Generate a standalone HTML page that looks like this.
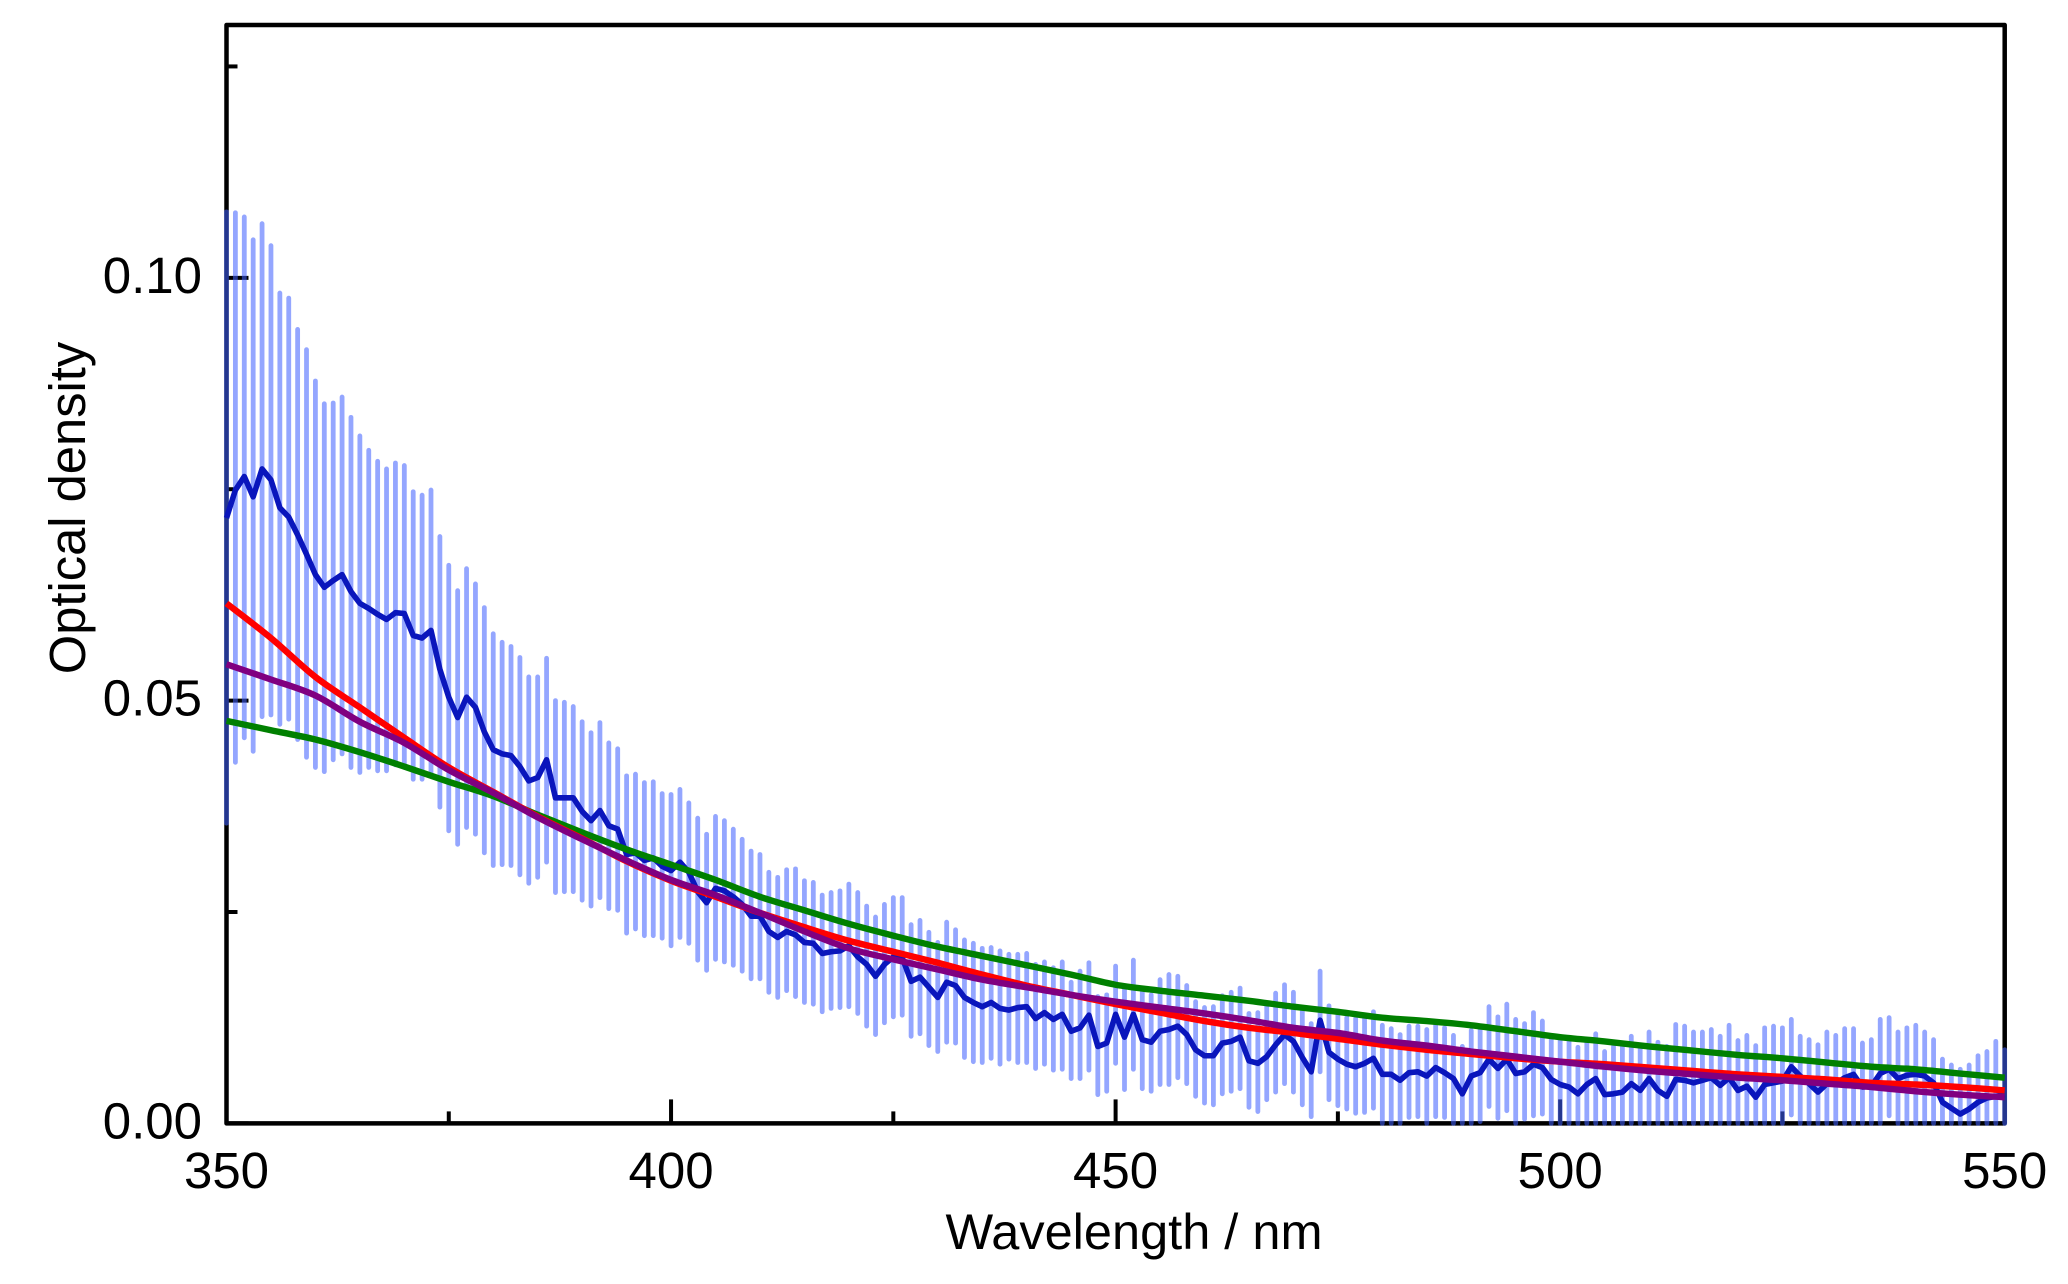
<!DOCTYPE html>
<html lang="en">
<head>
<meta charset="utf-8">
<title>Optical density vs wavelength</title>
<style>
html,body{margin:0;padding:0;background:#fff;}
svg{display:block;}
text{font-family:"Liberation Sans",Arial,sans-serif;fill:#000;}
</style>
</head>
<body>
<svg id="chart" width="2068" height="1284" viewBox="0 0 2068 1284" xmlns="http://www.w3.org/2000/svg">
<rect x="0" y="0" width="2068" height="1284" fill="#fff"/>
<g id="axes"></g>
<g id="bars"></g>
<g id="lines"></g>
<text x="1134" y="1249" font-size="50.5" text-anchor="middle">Wavelength / nm</text>
<text transform="translate(85 508) rotate(-90)" font-size="50.7" text-anchor="middle">Optical density</text>
</svg>
<script>
// All absorbance values are in units of 10^-3 optical density.
const startNm = 350;
const meanOD = [
71.6,74.9,76.5,74.1,77.4,76.1,72.8,71.7,69.6,67.3,
64.9,63.4,64.2,64.9,62.9,61.5,60.9,60.2,59.6,60.4,
60.3,57.7,57.4,58.3,53.7,50.4,48.0,50.4,49.2,46.3,
44.2,43.7,43.5,42.2,40.5,40.9,43.0,38.5,38.5,38.5,
36.9,35.8,37.0,35.2,34.8,31.8,32.0,31.1,31.4,30.4,
29.9,30.9,29.7,27.4,26.1,27.8,27.5,26.8,25.9,24.5,
24.5,22.7,22.0,22.7,22.3,21.4,21.3,20.1,20.3,20.4,
21.0,19.7,18.8,17.4,18.8,19.7,19.6,16.8,17.3,16.1,
14.9,16.7,16.3,14.9,14.3,13.8,14.3,13.6,13.4,13.7,
13.8,12.4,13.1,12.3,12.9,10.9,11.3,12.8,9.1,9.5,
12.9,10.2,12.9,9.9,9.6,10.9,11.1,11.5,10.5,8.7,
8.0,8.0,9.5,9.7,10.2,7.4,7.1,7.9,9.3,10.5,
9.7,7.8,6.1,12.2,8.4,7.6,7.0,6.7,7.1,7.7,
5.8,5.8,5.1,6.0,6.1,5.6,6.6,6.0,5.3,3.5,
5.6,6.0,7.6,6.5,7.6,5.9,6.1,7.0,6.6,5.2,
4.6,4.3,3.5,4.6,5.3,3.4,3.5,3.7,4.7,3.9,
5.3,3.9,3.2,5.2,5.1,4.8,5.1,5.4,4.5,5.4,
3.9,4.4,3.1,4.6,4.8,5.0,6.7,5.6,4.7,3.7,
4.7,4.7,5.4,5.8,4.3,4.4,5.9,6.4,5.3,5.7,
5.8,5.6,4.8,2.5,1.8,1.1,1.7,2.5,3.0,3.2,
3.4
];
const upperOD = [
107.8,107.7,107.2,104.5,106.4,103.8,98.2,97.6,93.9,91.5,
87.8,85.1,85.2,85.9,83.5,81.3,79.6,78.3,77.4,78.1,
77.8,74.7,74.3,74.9,69.4,66.0,63.0,65.6,63.8,61.0,
57.9,56.9,56.4,55.1,52.8,52.8,55.0,50.0,49.8,49.3,
47.5,46.2,47.4,45.0,44.3,41.1,41.3,40.3,40.4,39.0,
38.9,39.5,37.9,36.1,34.2,36.3,35.8,34.8,33.6,32.2,
31.8,29.7,29.1,30.0,30.1,28.7,28.5,27.0,27.3,27.5,
28.3,27.3,25.7,24.4,25.9,26.7,26.7,23.5,24.0,22.6,
21.4,23.8,22.9,21.7,21.3,20.7,20.8,20.4,20.0,20.0,
20.1,18.8,19.1,18.4,19.1,16.7,18.0,19.0,15.0,15.2,
18.6,16.1,19.3,15.8,15.2,17.0,17.6,17.4,16.3,14.4,
13.7,13.8,15.1,15.5,16.0,13.0,13.1,14.1,15.4,16.4,
15.5,13.5,11.8,18.0,13.9,12.9,12.5,12.4,12.5,13.2,
11.6,11.2,10.5,11.5,11.5,11.1,11.7,11.3,10.4,9.1,
11.0,11.1,13.8,12.6,14.1,12.3,11.8,13.1,12.1,10.2,
9.9,9.7,9.0,9.6,10.6,8.5,9.1,9.1,10.3,9.1,
10.8,9.6,9.1,11.7,11.5,10.8,10.8,11.1,10.3,11.6,
9.8,10.4,9.2,11.3,11.5,11.3,12.3,10.3,9.9,9.3,
10.8,10.4,11.2,11.2,9.5,9.9,12.3,12.5,10.8,11.3,
11.6,10.8,9.9,7.6,6.9,6.4,6.9,8.0,8.5,9.7,
8.7
];
const lowerOD = [
35.5,42.7,45.6,44.0,48.1,48.3,47.2,47.8,45.4,43.3,
42.1,41.6,43.0,43.7,42.1,41.5,42.1,41.7,41.7,42.4,
42.1,40.7,40.7,41.3,37.4,34.6,33.0,35.0,34.2,32.0,
30.5,30.6,30.5,29.4,28.4,29.1,30.9,27.3,27.4,27.4,
26.4,25.7,26.7,25.4,25.2,22.5,23.0,22.2,22.2,21.9,
21.0,22.0,21.3,19.3,18.1,19.4,19.1,18.7,18.0,17.1,
17.1,15.5,14.9,15.7,15.0,14.3,14.1,13.2,13.6,13.7,
13.8,13.0,11.5,10.5,11.9,12.6,12.8,10.3,10.6,9.2,
8.5,9.6,9.5,7.8,7.3,7.2,7.7,7.0,7.6,7.2,
7.2,6.5,7.0,6.3,6.4,5.3,5.3,6.3,3.4,3.8,
7.1,4.0,6.4,4.1,3.8,4.6,4.6,5.4,4.7,3.2,
2.4,2.2,3.5,3.8,4.1,1.9,1.4,2.8,3.7,4.7,
3.7,2.2,0.8,6.1,2.8,2.1,1.7,1.2,1.3,1.8,
0,0,0,0.7,0.8,0,0.8,0.7,0,0,
0,0.2,2.0,0.6,1.5,0,0.5,0.9,1.1,0,
0,0,0,0,0,0,0,0,0,0,
0,0,0,0,0,0,0,0,0,0,
0,0,0,0,0,0,1.0,0,0,0,
0,0,0,0,0,0,0,0.9,0,0,
0,0,0,0,0,0,0,0,0,0,
0
];
// Fitted curves, read every 5 nm from 350 to 550.
const fitStepNm = 5;
const redFit = [
61.5,57.4,52.8,49.2,45.6,42.1,39.2,36.3,33.7,31.0,
28.7,26.8,24.9,23.2,21.6,20.3,19.0,17.6,16.3,15.2,
14.1,13.1,12.1,11.3,10.7,10.0,9.3,8.7,8.2,7.7,
7.3,7.0,6.6,6.2,5.8,5.5,5.2,4.8,4.6,4.3,
3.9
];
const purpleFit = [
54.3,52.5,50.6,47.5,45.0,41.8,39.1,36.2,33.6,31.1,
28.8,27.0,24.9,22.7,20.7,19.4,18.2,17.0,16.1,15.2,
14.4,13.7,13.0,12.2,11.3,10.7,9.8,9.2,8.5,7.9,
7.3,6.7,6.2,5.8,5.4,5.1,4.7,4.3,3.8,3.4,
3.1
];
const greenFit = [
47.6,46.5,45.4,43.9,42.2,40.4,38.7,36.5,34.4,32.4,
30.6,28.8,26.8,25.2,23.6,22.2,20.9,19.8,18.7,17.6,
16.4,15.7,15.1,14.5,13.8,13.2,12.5,12.1,11.6,10.9,
10.2,9.7,9.1,8.6,8.1,7.7,7.2,6.7,6.4,5.9,
5.4
];
const xMajorTicks = [350,400,450,500,550];
const xMinorTicks = [375,425,475,525];
const yMajorTicks = [0,50,100];
const yMinorTicks = [25,75,125];

const NS = 'http://www.w3.org/2000/svg';
const plotLeft = 226.5, plotRight = 2004.7, plotTop = 25, plotBottom = 1123.4;
const xDomain = [350,550], yDomain = [0,129.9];
function xScale(nm){ return plotLeft + (nm - xDomain[0]) / (xDomain[1] - xDomain[0]) * (plotRight - plotLeft); }
function yScale(v){ return plotBottom - (v - yDomain[0]) / (yDomain[1] - yDomain[0]) * (plotBottom - plotTop); }
function make(tag, parent, attrs){
  const el = document.createElementNS(NS, tag);
  for (const k in attrs) el.setAttribute(k, attrs[k]);
  parent.appendChild(el);
  return el;
}
const axes = document.getElementById('axes');
const bars = document.getElementById('bars');
const lines = document.getElementById('lines');

const frame = make('rect', axes, {x:plotLeft, y:plotTop, width:plotRight-plotLeft, height:plotBottom-plotTop, fill:'none', stroke:'#000', 'stroke-width':4.5, 'stroke-linejoin':'round'});



xMajorTicks.forEach(function(t){
  const tick = make('line', axes, {x1:xScale(t), x2:xScale(t), y1:plotBottom, y2:plotBottom-24, stroke:'#000', 'stroke-width':4});
  
  
  const label = make('text', axes, {x:xScale(t), y:1188, 'font-size':51, 'text-anchor':'middle'});
  
  
  label.textContent = String(t);
});
xMinorTicks.forEach(function(t){
  const tick = make('line', axes, {x1:xScale(t), x2:xScale(t), y1:plotBottom, y2:plotBottom-12, stroke:'#000', 'stroke-width':4});
  
  
});
yMajorTicks.forEach(function(t){
  const tick = make('line', axes, {x1:plotLeft, x2:plotLeft+22, y1:yScale(t), y2:yScale(t), stroke:'#000', 'stroke-width':4});
  
  
  const label = make('text', axes, {x:202, y:yScale(t)+15, 'font-size':51, 'text-anchor':'end'});
  
  
  label.textContent = (t/1000).toFixed(2);
});
yMinorTicks.forEach(function(t){
  const tick = make('line', axes, {x1:plotLeft, x2:plotLeft+11, y1:yScale(t), y2:yScale(t), stroke:'#000', 'stroke-width':4});
  
  
});

meanOD.forEach(function(m, i){
  const nm = startNm + i;
  const bar = make('line', bars, {x1:xScale(nm), x2:xScale(nm), y1:yScale(upperOD[i]), y2:yScale(lowerOD[i]), stroke:'#4060ff', 'stroke-opacity':0.56, 'stroke-width':4.8, 'stroke-linecap':'round'});
  
  
});

const meanPoints = meanOD.map(function(v, i){ return xScale(startNm + i).toFixed(2) + ',' + yScale(v).toFixed(2); }).join(' ');
const meanLine = make('polyline', lines, {points:meanPoints, fill:'none', stroke:'#0a16bc', 'stroke-width':5.6, 'stroke-linejoin':'round'});



// Smooth curve through the fitted values (Catmull-Rom to cubic Bezier).
function fitPath(arr){
  const p = arr.map(function(v, i){ return [xScale(startNm + i*fitStepNm), yScale(v)]; });
  let d = 'M' + p[0][0].toFixed(2) + ' ' + p[0][1].toFixed(2);
  for (let i = 0; i < p.length - 1; i++){
    const a = p[Math.max(i-1, 0)], b = p[i], c = p[i+1], e = p[Math.min(i+2, p.length-1)];
    d += ' C' + (b[0]+(c[0]-a[0])/6).toFixed(2) + ' ' + (b[1]+(c[1]-a[1])/6).toFixed(2) + ' ' +
         (c[0]-(e[0]-b[0])/6).toFixed(2) + ' ' + (c[1]-(e[1]-b[1])/6).toFixed(2) + ' ' +
         c[0].toFixed(2) + ' ' + c[1].toFixed(2);
  }
  return d;
}
const greenLine = make('path', lines, {d:fitPath(greenFit), fill:'none', stroke:'#008000', 'stroke-width':6.4});


const redLine = make('path', lines, {d:fitPath(redFit), fill:'none', stroke:'#ff0000', 'stroke-width':6.4});


const purpleLine = make('path', lines, {d:fitPath(purpleFit), fill:'none', stroke:'#800080', 'stroke-width':6.4});


</script>
</body>
</html>
